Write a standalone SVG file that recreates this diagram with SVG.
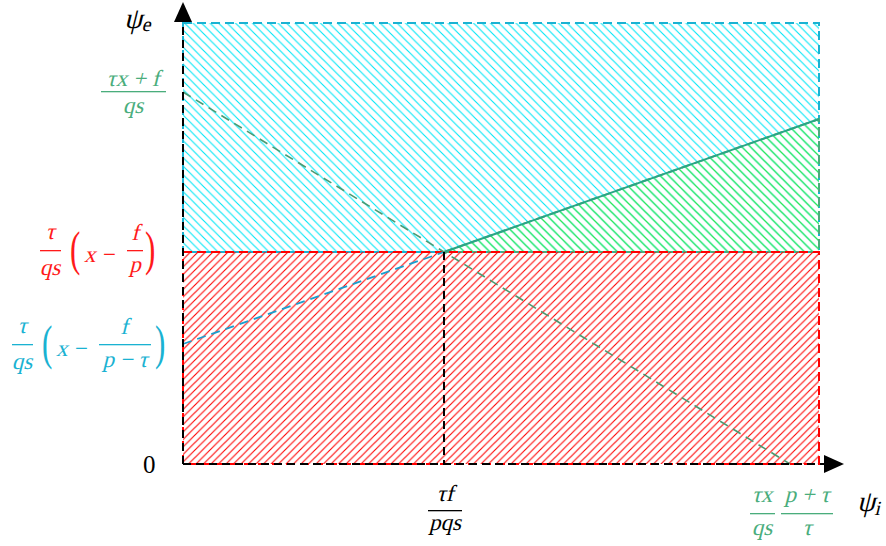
<svg xmlns="http://www.w3.org/2000/svg" width="886" height="546" viewBox="0 0 886 546">
<style>
text{font-family:"Liberation Serif","Times New Roman",serif;}
.k{fill:#000;}
.g{fill:#4aad7c;}
.r{fill:#ff1a1a;}
.c{fill:#1ab2d2;}
.hl{stroke-width:1.1;fill:none;}
</style>
<defs>
<pattern id="hc" patternUnits="userSpaceOnUse" width="8.5" height="8.5"><path class="hl" d="M-1,-1 L9.5,9.5 M-1,7.5 L1,9.5 M7.5,-1 L9.5,1" stroke="#00e6f6"/></pattern>
<pattern id="hr" patternUnits="userSpaceOnUse" width="7.5" height="7.5"><path class="hl" d="M-1,8.5 L8.5,-1 M-1,1 L1,-1 M6.5,8.5 L8.5,6.5" stroke="#ff0000"/></pattern>
<pattern id="hg" patternUnits="userSpaceOnUse" width="8.5" height="8.5"><path class="hl" d="M-1,-1 L9.5,9.5 M-1,7.5 L1,9.5 M7.5,-1 L9.5,1" stroke="#3ee83e"/></pattern>
</defs>
<g id="regions">
<g id="cyan-region"><rect x="183" y="23" width="636" height="229" fill="url(#hc)" stroke="#1ab2d2" stroke-width="2" stroke-dasharray="9,5"/></g>
<g id="green-region"><polygon points="444,252 819,119 819,252" fill="url(#hg)" stroke="#4aad7c" stroke-width="2" stroke-dasharray="9,5"/></g>
<g id="red-region"><rect x="183" y="252" width="636" height="212" fill="url(#hr)" stroke="#ff0000" stroke-width="2" stroke-dasharray="9,5"/></g>
</g>
<g id="connectors">
<line x1="444" y1="252" x2="819" y2="119" stroke="#2aa585" stroke-width="2"/>
<line x1="183" y1="344" x2="444" y2="252" stroke="#1a9fcf" stroke-width="1.8" stroke-dasharray="9,6"/>
<line x1="183" y1="92" x2="790" y2="464" stroke="#4a9a72" stroke-width="1.6" stroke-dasharray="9,6"/>
<line x1="444" y1="252" x2="444" y2="464" stroke="#000" stroke-width="2" stroke-dasharray="8,5"/>
<line x1="183" y1="464" x2="183" y2="20" stroke="#000" stroke-width="2" stroke-dasharray="8,5"/>
<line x1="183" y1="464" x2="826" y2="464" stroke="#000" stroke-width="2" stroke-dasharray="8,5"/>
<polygon points="183,2 174,22 192,22" fill="#000"/>
<polygon points="844,464 824,455 824,473" fill="#000"/>
</g>
<g id="labels">
<text class="k" transform="translate(124,28) skewX(-14)" font-size="29">ψ<tspan font-size="20" dy="3">e</tspan></text>
<text class="k" transform="translate(857,511) skewX(-14)" font-size="29">ψ<tspan font-size="20" dy="4">i</tspan></text>
<text class="k" x="143" y="473" font-size="25">0</text>
<g class="g">
<text transform="translate(133,86) skewX(-14)" font-size="23" text-anchor="middle">τx + f</text>
<rect x="101" y="91" width="65" height="1.3"/>
<text transform="translate(133,113) skewX(-14)" font-size="23" text-anchor="middle">qs</text>
<text transform="translate(762,502) skewX(-14)" font-size="23" text-anchor="middle">τx</text>
<rect x="750" y="513" width="25" height="1.3"/>
<text transform="translate(762,535) skewX(-14)" font-size="23" text-anchor="middle">qs</text>
<text transform="translate(807,502) skewX(-14)" font-size="23" text-anchor="middle">p + τ</text>
<rect x="781" y="513" width="52" height="1.3"/>
<text transform="translate(807,535) skewX(-14)" font-size="23" text-anchor="middle">τ</text>
</g>
<g class="r">
<text transform="translate(50,239) skewX(-14)" font-size="23" text-anchor="middle">τ</text>
<rect x="40" y="250" width="21" height="1.3"/>
<text transform="translate(50,275) skewX(-14)" font-size="23" text-anchor="middle">qs</text>
<text transform="translate(70,265) scale(1,1.6)" font-size="31">(</text>
<text transform="translate(84,262) skewX(-14)" font-size="23">x</text>
<text x="103" y="262" font-size="23">−</text>
<text transform="translate(135,240) skewX(-14)" font-size="23" text-anchor="middle">f</text>
<rect x="127" y="250" width="16" height="1.3"/>
<text transform="translate(135,272) skewX(-14)" font-size="23" text-anchor="middle">p</text>
<text transform="translate(145,265) scale(1,1.6)" font-size="31">)</text>
</g>
<g class="c">
<text transform="translate(22,333) skewX(-14)" font-size="23" text-anchor="middle">τ</text>
<rect x="12" y="344" width="21" height="1.3"/>
<text transform="translate(22,369) skewX(-14)" font-size="23" text-anchor="middle">qs</text>
<text transform="translate(42,359) scale(1,1.6)" font-size="31">(</text>
<text transform="translate(56,356) skewX(-14)" font-size="23">x</text>
<text x="75" y="356" font-size="23">−</text>
<text transform="translate(124,334) skewX(-14)" font-size="23" text-anchor="middle">f</text>
<rect x="99" y="344" width="52" height="1.3"/>
<text transform="translate(125,367) skewX(-14)" font-size="23" text-anchor="middle">p − τ</text>
<text transform="translate(155,359) scale(1,1.6)" font-size="31">)</text>
</g>
<g class="k">
<text transform="translate(445,501) skewX(-14)" font-size="23" text-anchor="middle">τf</text>
<rect x="428" y="510" width="34" height="1.3"/>
<text transform="translate(445,530) skewX(-14)" font-size="23" text-anchor="middle">pqs</text>
</g>
</g>
</svg>
